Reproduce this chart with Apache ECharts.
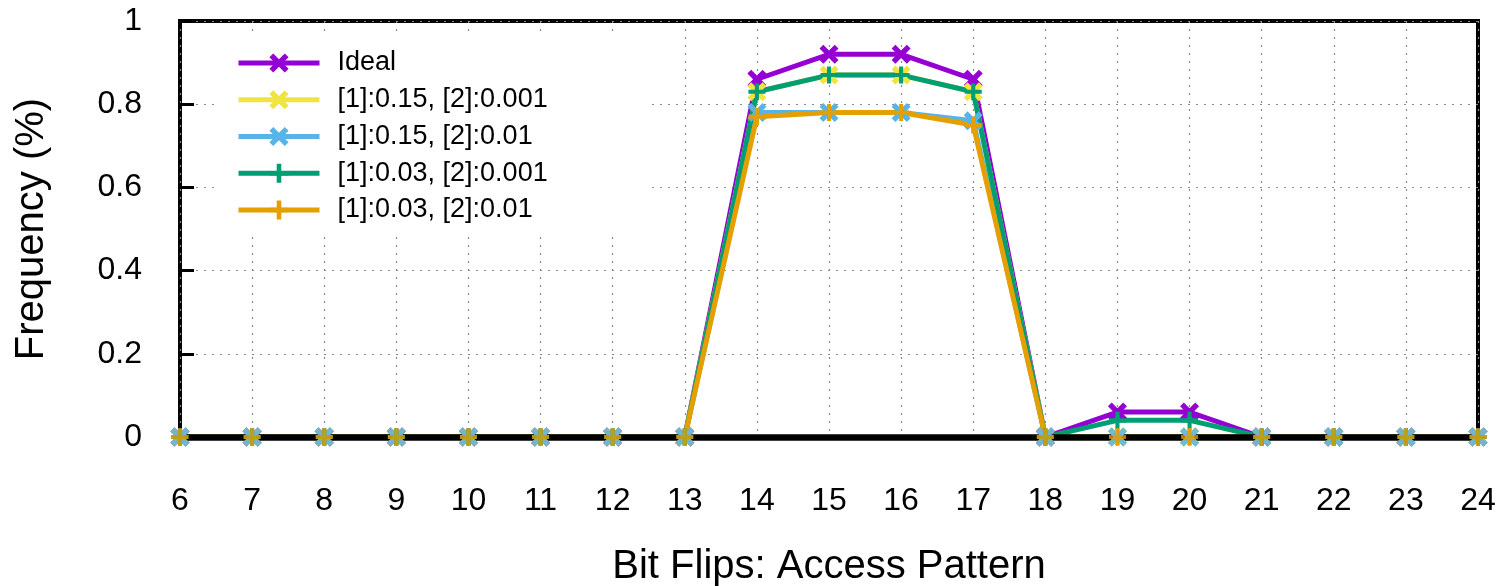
<!DOCTYPE html>
<html>
<head>
<meta charset="utf-8">
<script src="https://cdn.jsdelivr.net/npm/echarts@6/dist/echarts.min.js"></script>
<style>
  html, body { margin: 0; padding: 0; background: #ffffff; }
  #chart { width: 1505px; height: 586px; }
</style>
</head>
<body>
<div id="chart"></div>
<script>
// Access pattern (number of bit flips) on the x axis
const bitFlips = [6, 7, 8, 9, 10, 11, 12, 13, 14, 15, 16, 17, 18, 19, 20, 21, 22, 23, 24];

// Frequency per configuration
const ideal      = [0, 0, 0, 0, 0, 0, 0, 0, 0.86, 0.92, 0.92, 0.86, 0, 0.06, 0.06, 0, 0, 0, 0];
const p015_0001  = [0, 0, 0, 0, 0, 0, 0, 0, 0.83, 0.87, 0.87, 0.83, 0, 0, 0, 0, 0, 0, 0];
const p015_001   = [0, 0, 0, 0, 0, 0, 0, 0, 0.78, 0.78, 0.78, 0.76, 0, 0, 0, 0, 0, 0, 0];
const p003_0001  = [0, 0, 0, 0, 0, 0, 0, 0, 0.83, 0.87, 0.87, 0.83, 0, 0.04, 0.04, 0, 0, 0, 0];
const p003_001   = [0, 0, 0, 0, 0, 0, 0, 0, 0.77, 0.78, 0.78, 0.75, 0, 0, 0, 0, 0, 0, 0];

const seriesNames = ['Ideal', '[1]:0.15, [2]:0.001', '[1]:0.15, [2]:0.01', '[1]:0.03, [2]:0.001', '[1]:0.03, [2]:0.01'];
const seriesValues = [ideal, p015_0001, p015_001, p003_0001, p003_001];
const seriesColors = ['#9400d3', '#f0e442', '#56b4e9', '#009e73', '#e69f00'];

const yTicks = [0, 0.2, 0.4, 0.6, 0.8, 1];

// Marker shapes: thick "x" and thick "+"
const CROSS = 'path://M0,2L2,0L5,3L8,0L10,2L7,5L10,8L8,10L5,7L2,10L0,8L3,5Z';
const PLUS = 'path://M3.8,0H6.2V3.8H10V6.2H6.2V10H3.8V6.2H0V3.8H3.8Z';
const seriesSymbols = [CROSS, CROSS, CROSS, PLUS, PLUS];
const seriesSymbolSizes = [19, 19, 19, 17, 17];

const FONT = '"Liberation Sans", Arial, Helvetica, sans-serif';

const pairs = vals => bitFlips.map((x, i) => [x, vals[i]]);

const lineSeries = seriesNames.map((name, i) => ({
  name: name,
  type: 'line',
  xAxisIndex: 0,
  yAxisIndex: 0,
  z: 1,
  data: pairs(seriesValues[i]),
  symbol: seriesSymbols[i],
  symbolSize: seriesSymbolSizes[i],
  showAllSymbol: true,
  lineStyle: { color: seriesColors[i], width: 5 },
  itemStyle: { color: seriesColors[i] },
  emphasis: { disabled: true }
}));

// Markers sitting on the baseline are drawn again above the thick bottom frame
const baselineMarkers = seriesNames.map((name, i) => ({
  name: name + ' baseline',
  type: 'scatter',
  xAxisIndex: 0,
  yAxisIndex: 0,
  z: 4,
  data: pairs(seriesValues[i]).filter(p => p[1] === 0),
  symbol: seriesSymbols[i],
  symbolSize: seriesSymbolSizes[i],
  itemStyle: { color: seriesColors[i] },
  emphasis: { disabled: true }
}));

const chart = echarts.init(document.getElementById('chart'), null, { renderer: 'canvas' });

chart.setOption({
  animation: false,
  backgroundColor: '#ffffff',
  textStyle: { fontFamily: FONT },
  grid: {
    left: 180, right: 27, top: 21, bottom: 149,
    outerBoundsMode: 'none',
    containLabel: false,
    show: true, borderColor: '#000000', borderWidth: 4, backgroundColor: 'transparent'
  },
  legend: {
    data: seriesNames,
    orient: 'vertical',
    left: 218,
    top: 37,
    padding: [12, 103, 13, 18],
    backgroundColor: '#ffffff',
    itemWidth: 81,
    itemHeight: 24,
    itemGap: 8.75,
    selectedMode: false,
    lineStyle: { width: 5 },
    textStyle: { fontFamily: FONT, fontSize: 27, color: '#000000', lineHeight: 28, padding: [0, 0, 0, 13] }
  },
  xAxis: [
    {
      type: 'value',
      min: 6, max: 24, interval: 1,
      name: 'Bit Flips: Access Pattern',
      nameLocation: 'middle',
      nameGap: 110,
      nameTextStyle: { fontFamily: FONT, fontSize: 40, color: '#000000' },
      axisLine: { show: false },
      axisTick: { show: false },
      axisLabel: { fontFamily: FONT, fontSize: 32, color: '#000000', margin: 48 },
      splitLine: { show: true, lineStyle: { color: '#8a8a8a', width: 1.2, type: [2, 6] } }
    },
    {
      // thick bottom frame drawn over the lines lying on zero
      type: 'value',
      position: 'bottom',
      min: 6, max: 24,
      z: 3,
      axisLine: { show: true, onZero: false, lineStyle: { color: '#000000', width: 6.5 } },
      axisTick: { show: false },
      axisLabel: { show: false },
      splitLine: { show: false }
    }
  ],
  yAxis: {
    type: 'value',
    min: yTicks[0], max: yTicks[yTicks.length - 1], interval: 0.2,
    name: 'Frequency (%)',
    nameLocation: 'middle',
    nameGap: 128,
    nameTextStyle: { fontFamily: FONT, fontSize: 40, color: '#000000' },
    axisLine: { show: false },
    axisTick: { show: true, inside: true, length: 14, lineStyle: { color: '#000000', width: 3 } },
    axisLabel: { fontFamily: FONT, fontSize: 32, color: '#000000', margin: 38 },
    splitLine: { show: true, lineStyle: { color: '#8a8a8a', width: 1.2, type: [2, 6] } }
  },
  series: lineSeries.concat(baselineMarkers)
});
</script>
</body>
</html>
